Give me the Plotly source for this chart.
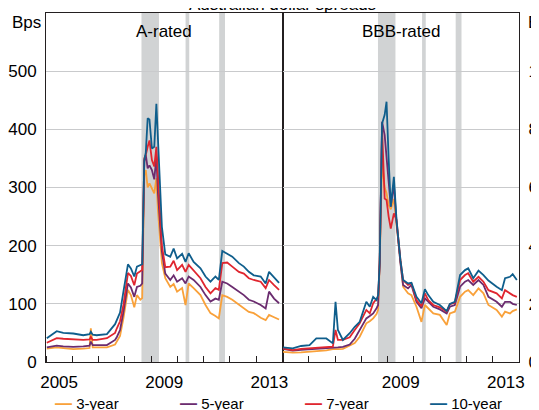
import plotly.graph_objects as go
import pandas as pd

# ---------------- data ----------------
series_names = ["3-year", "5-year", "7-year", "10-year"]
series_colors = ["#F9A13A", "#6B2C6F", "#E0262F", "#0F5E8C"]

a_dates = [
    "2005-01-12", "2005-05-30", "2005-08-29", "2006-01-15", "2006-06-03", "2006-08-29",
    "2006-09-16", "2006-10-12", "2006-12-06", "2007-04-28", "2007-08-19", "2007-09-13",
    "2007-10-27", "2007-12-13", "2008-02-14", "2008-03-26", "2008-05-12", "2008-06-18",
    "2008-08-04", "2008-08-30", "2008-09-28", "2008-10-19", "2008-11-14", "2008-12-09",
    "2009-01-12", "2009-02-14", "2009-03-15", "2009-04-06", "2009-05-31", "2009-07-17",
    "2009-09-24", "2009-11-10", "2009-12-28", "2010-03-08", "2010-04-24", "2010-06-07",
    "2010-08-15", "2010-11-18", "2011-01-27", "2011-04-06", "2011-06-14", "2011-07-31",
    "2011-09-17", "2011-11-24", "2012-02-03", "2012-05-05", "2012-07-13", "2012-09-20",
    "2012-11-28", "2013-03-04", "2013-05-12", "2013-06-28", "2013-09-06", "2013-11-14",
]
a_3y = [23, 25, 24, 22, 23, 24, 58, 25, 25, 25, 30, 35, 45, 75, 124, 115, 94, 115, 107, 110,
        320, 330, 300, 307, 298, 290, 316, 260, 170, 144, 129, 134, 121, 127, 98, 135, 127, 115,
        98, 84, 79, 75, 115, 112, 107, 98, 92, 86, 84, 76, 72, 81, 77, 73]
a_5y = [25, 28, 27, 26, 27, 28, 35, 29, 29, 29, 38, 43, 55, 86, 135, 128, 112, 129, 131, 135,
        345, 356, 333, 338, 330, 314, 353, 290, 190, 152, 141, 149, 138, 144, 135, 147, 141, 129,
        115, 104, 109, 107, 138, 135, 129, 121, 115, 107, 104, 98, 92, 121, 109, 101]
a_7y = [33, 41, 40, 39, 38, 39, 43, 38, 38, 41, 50, 58, 70, 98, 153, 148, 132, 152, 155, 158,
        350, 356, 370, 381, 347, 336, 370, 320, 200, 163, 164, 174, 158, 167, 155, 167, 158, 144,
        129, 118, 127, 124, 170, 171, 164, 155, 152, 144, 141, 138, 127, 141, 132, 124]
a_10y = [41, 53, 50, 49, 46, 48, 52, 47, 46, 48, 65, 72, 85, 121, 168, 161, 147, 164, 166, 168,
         347, 360, 419, 417, 367, 370, 444, 376, 232, 185, 181, 195, 178, 186, 172, 187, 172, 161,
         147, 138, 147, 141, 191, 186, 181, 170, 164, 155, 149, 147, 135, 155, 145, 136]

bbb_dates = [
    "2005-01-05", "2005-05-23", "2005-09-16", "2006-01-12", "2006-04-16", "2006-09-02",
    "2006-12-02", "2007-01-08", "2007-02-10", "2007-04-20", "2007-07-24", "2007-10-02",
    "2007-12-10", "2008-03-11", "2008-04-28", "2008-06-14", "2008-07-31", "2008-08-22",
    "2008-09-13", "2008-10-16", "2008-11-21", "2008-12-17", "2009-01-15", "2009-02-14",
    "2009-03-29", "2009-05-05", "2009-06-28", "2009-08-04", "2009-10-12", "2009-11-28",
    "2010-02-06", "2010-04-16", "2010-06-03", "2010-07-20", "2010-09-28", "2010-12-28",
    "2011-04-02", "2011-05-16", "2011-07-24", "2011-10-05", "2011-12-13", "2012-01-26",
    "2012-04-05", "2012-06-17", "2012-08-25", "2012-11-02", "2013-02-24", "2013-05-08",
    "2013-06-21", "2013-08-29", "2013-10-05", "2013-12-02",
]
bbb_3y = [35, 32, 33, 35, 38, 40, 44, 45, 44, 45, 55, 65, 87, 133, 140, 150, 165, 179, 340,
          690, 600, 580, 540, 525, 560, 470, 330, 259, 236, 230, 190, 138, 196, 185, 167, 162,
          127, 167, 173, 224, 242, 247, 230, 253, 236, 196, 179, 156, 173, 167, 175, 181]
bbb_5y = [45, 39, 42, 44, 45, 46, 47, 50, 50, 52, 60, 80, 110, 150, 158, 167, 185, 196, 350,
          826, 780, 700, 600, 534, 610, 480, 340, 265, 253, 265, 207, 185, 219, 207, 190, 181,
          167, 190, 196, 259, 276, 282, 265, 282, 265, 224, 207, 190, 207, 207, 200, 196]
bbb_7y = [47, 41, 45, 47, 50, 52, 53, 110, 76, 76, 85, 110, 133, 179, 167, 202, 215, 224, 340,
          800, 562, 557, 500, 459, 511, 488, 350, 282, 265, 270, 213, 192, 236, 213, 196, 188,
          173, 199, 204, 282, 299, 305, 276, 293, 276, 247, 236, 219, 247, 236, 230, 224]
bbb_10y = [50, 47, 55, 58, 81, 81, 64, 207, 110, 76, 99, 121, 138, 207, 190, 224, 213, 230, 340,
           820, 850, 895, 700, 534, 637, 488, 350, 282, 270, 272, 224, 202, 250, 230, 207, 196,
           175, 200, 207, 299, 316, 322, 288, 314, 299, 280, 259, 247, 288, 293, 302, 282]

stress_start = ["2008-08-20", "2010-04-25", "2011-08-05"]
stress_end = ["2009-04-20", "2010-06-15", "2011-10-25"]

a_tick_labels = ["2005", "2009", "2013"]
bbb_tick_labels = ["2009", "2013"]
a_yticks = [0, 100, 200, 300, 400, 500]
bbb_yticks = [0, 200, 400, 600, 800, 1000]

# ---------------- figure ----------------
FONT = "Arial, Liberation Sans, sans-serif"
AX = "#231F20"
GRID = "#C9CACC"
BAND = "#D1D3D4"

a_series = [a_3y, a_5y, a_7y, a_10y]
bbb_series = [bbb_3y, bbb_5y, bbb_7y, bbb_10y]

fig = go.Figure()
for name, col, ya, yb in zip(series_names, series_colors, a_series, bbb_series):
    fig.add_trace(go.Scatter(x=a_dates, y=ya, mode="lines", name=name,
                             line=dict(color=col, width=1.8), xaxis="x", yaxis="y",
                             legendgroup=name, showlegend=False))
    fig.add_trace(go.Scatter(x=bbb_dates, y=yb, mode="lines", name=name,
                             line=dict(color=col, width=1.8), xaxis="x2", yaxis="y2",
                             legendgroup=name, showlegend=False))

shapes = []
for s, e in zip(stress_start, stress_end):
    for xr, yr in (("x", "y domain"), ("x2", "y2 domain")):
        shapes.append(dict(type="rect", xref=xr, yref=yr, x0=s, x1=e, y0=0, y1=1,
                           fillcolor=BAND, line=dict(width=0), layer="below"))

year_starts = [d.strftime("%Y-%m-%d") for d in pd.date_range("2005-01-01", "2014-01-01", freq="YS")]
a_tickvals = [f"{y}-07-02" for y in a_tick_labels]
bbb_tickvals = [f"{y}-07-02" for y in bbb_tick_labels]

xcommon = dict(type="date", range=["2005-01-01", "2014-01-01"], ticks="", showgrid=False,
               showline=True, linecolor=AX, linewidth=1, mirror=True, zeroline=False,
               automargin=False, ticklabelstandoff=5,
               tickfont=dict(family=FONT, size=17, color="#000"),
               minor=dict(tickmode="array", tickvals=year_starts, ticks="inside", ticklen=6,
                          tickcolor=AX, tickwidth=1, showgrid=False))
ycommon = dict(showgrid=True, gridcolor=GRID, gridwidth=1, showline=True, linecolor=AX,
               linewidth=1, mirror=True, zeroline=False, ticks="", automargin=False,
               tickfont=dict(family=FONT, size=17, color="#000"), ticklabelstandoff=5)

# legend drawn as text: coloured dash + label
legend_x = [0.0148, 0.279, 0.5433, 0.8076]
legend_ann = []
for name, col, lx in zip(series_names, series_colors, legend_x):
    legend_ann.append(dict(
        text=f"<span style='color:{col};font-size:17px'><b>—</b></span> {name}",
        xref="paper", yref="paper", x=lx, y=-0.1203, xanchor="left", yanchor="middle",
        showarrow=False, font=dict(size=15, family=FONT, color="#000")))

fig.update_layout(
    width=539, height=410, autosize=False,
    margin=dict(l=38, r=28, t=5, b=56, pad=0),
    paper_bgcolor="white", plot_bgcolor="white",
    font=dict(family=FONT, size=17, color="#000"),
    xaxis=dict(domain=[0, 0.5], anchor="y", tickmode="array", tickvals=a_tickvals,
               ticktext=a_tick_labels, **xcommon),
    xaxis2=dict(domain=[0.5, 1], anchor="y2", tickmode="array", tickvals=bbb_tickvals,
                ticktext=bbb_tick_labels, **xcommon),
    yaxis=dict(anchor="x", range=[0, 600], tickmode="array", tickvals=a_yticks, **ycommon),
    yaxis2=dict(anchor="x2", side="right", range=[0, 1200], tickmode="array",
                tickvals=bbb_yticks, **ycommon),
    shapes=shapes,
    showlegend=False,
    annotations=[
        dict(text="Australian dollar spreads", xref="paper", yref="paper", x=0.5, y=1.024,
             xanchor="center", yanchor="middle", showarrow=False, font=dict(size=17)),
        dict(text="A-rated", xref="paper", yref="paper", x=0.25, y=0.948,
             xanchor="center", yanchor="middle", showarrow=False, font=dict(size=17)),
        dict(text="BBB-rated", xref="paper", yref="paper", x=0.75, y=0.948,
             xanchor="center", yanchor="middle", showarrow=False, font=dict(size=17)),
        dict(text="Bps", xref="paper", yref="paper", x=-0.042, y=0.974,
             xanchor="center", yanchor="middle", showarrow=False, font=dict(size=17)),
        dict(text="Bps", xref="paper", yref="paper", x=1.015, y=0.974,
             xanchor="left", yanchor="middle", showarrow=False, font=dict(size=17)),
    ] + legend_ann,
)

fig.write_html("out.html")
